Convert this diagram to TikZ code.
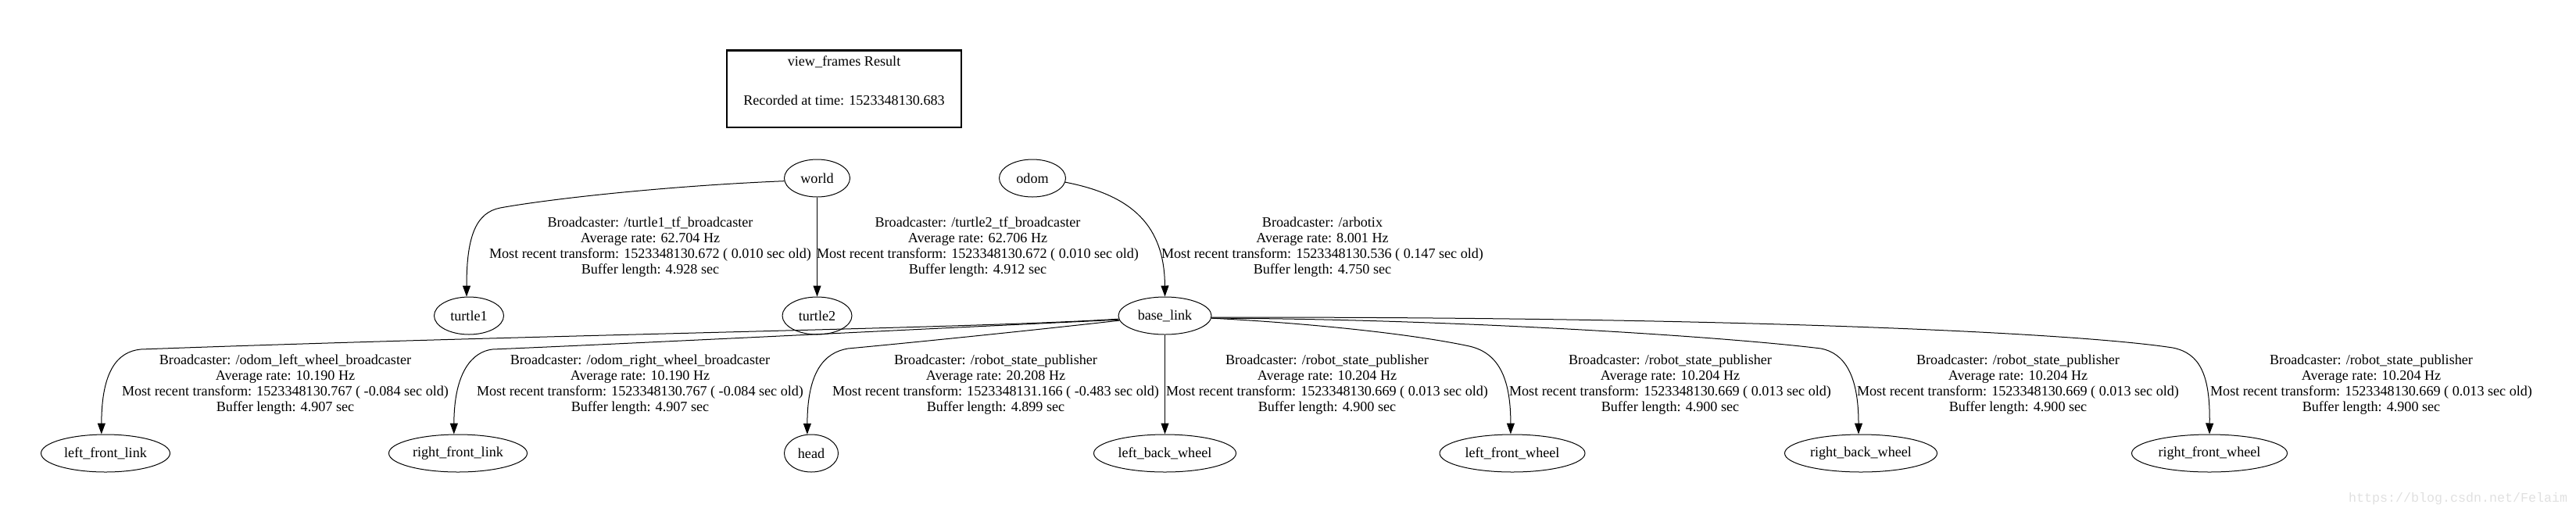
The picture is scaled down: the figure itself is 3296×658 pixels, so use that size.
\documentclass[tikz,border=0pt]{standalone}
\usepackage{fontspec}
\setmainfont{Liberation Serif}
\newfontfamily\markfont{Liberation Mono}
\usetikzlibrary{shapes.geometric,arrows.meta}

\begin{document}
\begin{tikzpicture}[x=0.75pt, y=-0.75pt, font=\fontsize{13.6}{15}\selectfont]
  \tikzset{
    tf frame/.style={
      draw,
      ellipse,
      line width=0.75pt,
      inner sep=0pt,
      minimum height=36pt,
      minimum width=#1,
    },
    tf frame/.default=63pt,
    tf link/.style={
      draw,
      line width=0.75pt,
      -{Triangle[length=10.5pt,width=7.5pt]},
    },
    tf info/.style={align=center, inner sep=0pt},
    tf result/.style={draw, line width=2pt, minimum width=225pt, minimum height=74pt, inner sep=0pt},
  }
  \newcommand{\tfstats}[5]{
    Broadcaster: #1\\
    Average rate: #2 Hz\\
    Most recent transform: #3 ( #4 sec old)\\
    Buffer length: #5 sec
  }
  \useasboundingbox (0,0) rectangle (3296,658);

  \node[tf result] (result) at (1080,113.5) {\raisebox{2.2pt}[0pt][0pt]{\begin{tabular}{@{}c@{}}view\_frames Result\\[22.5pt]Recorded at time: 1523348130.683\end{tabular}}};

  % frames
  \node[tf frame=63pt] (world) at (1045.5,228) {world};
  \node[tf frame=63.75pt] (odom) at (1321,228) {odom};
  \node[tf frame=66.75pt] (turtle1) at (600,404) {turtle1};
  \node[tf frame=66.75pt] (turtle2) at (1045.5,404) {turtle2};
  \node[tf frame=89.25pt] (base_link) at (1490.5,404) {base\_link};
  \node[tf frame=123.75pt] (left_front_link) at (135,580) {left\_front\_link};
  \node[tf frame=132.75pt] (right_front_link) at (586,580) {right\_front\_link};
  \node[tf frame=51.75pt] (head) at (1038,580) {head};
  \node[tf frame=136.5pt] (left_back_wheel) at (1490.5,580) {left\_back\_wheel};
  \node[tf frame=139.5pt] (left_front_wheel) at (1935,580) {left\_front\_wheel};
  \node[tf frame=146.25pt] (right_back_wheel) at (2381,580) {right\_back\_wheel};
  \node[tf frame=149.25pt] (right_front_wheel) at (2827,580) {right\_front\_wheel};

  % transforms
  \draw[tf link] (world.185)
    .. controls (850,238) and (700,255) .. (640,266)
    .. controls (610,272) and (597,300) .. (turtle1.97);
  \draw[tf link] (world) -- (turtle2);
  \draw[tf link] (odom.353)
    .. controls (1450,250) and (1490,290) .. (base_link.north);
  \draw[tf link] (base_link.184)
    .. controls (1250,420) and (700,428) .. (180,447)
    .. controls (150,450) and (130,475) .. (left_front_link.102);
  \draw[tf link] (base_link.185)
    .. controls (1200,420) and (800,440) .. (630,447)
    .. controls (605,450) and (581,475) .. (right_front_link.102);
  \draw[tf link] (base_link.186)
    .. controls (1300,425) and (1150,440) .. (1085,446)
    .. controls (1055,451) and (1033,475) .. (head.102);
  \draw[tf link] (base_link) -- (left_back_wheel);
  \draw[tf link] (base_link.357)
    .. controls (1700,415) and (1820,430) .. (1880,443)
    .. controls (1915,451) and (1933,480) .. (left_front_wheel.95);
  \draw[tf link] (base_link.357)
    .. controls (1850,408) and (2200,430) .. (2330,446)
    .. controls (2360,452) and (2378,480) .. (right_back_wheel.97);
  \draw[tf link] (base_link.358)
    .. controls (2200,405) and (2650,425) .. (2780,445)
    .. controls (2815,452) and (2828,480) .. (right_front_wheel.north);

  % edge labels
  \node[tf info] (info_turtle1) at (832,316) {\tfstats{/turtle1\_tf\_broadcaster}{62.704}{1523348130.672}{0.010}{4.928}};
  \node[tf info] (info_turtle2) at (1251,316) {\tfstats{/turtle2\_tf\_broadcaster}{62.706}{1523348130.672}{0.010}{4.912}};
  \node[tf info] (info_base) at (1692,316) {\tfstats{/arbotix}{8.001}{1523348130.536}{0.147}{4.750}};
  \node[tf info] (info_lfl) at (365,492) {\tfstats{/odom\_left\_wheel\_broadcaster}{10.190}{1523348130.767}{-0.084}{4.907}};
  \node[tf info] (info_rfl) at (819,492) {\tfstats{/odom\_right\_wheel\_broadcaster}{10.190}{1523348130.767}{-0.084}{4.907}};
  \node[tf info] (info_head) at (1274,492) {\tfstats{/robot\_state\_publisher}{20.208}{1523348131.166}{-0.483}{4.899}};
  \node[tf info] (info_lbw) at (1698,492) {\tfstats{/robot\_state\_publisher}{10.204}{1523348130.669}{0.013}{4.900}};
  \node[tf info] (info_lfw) at (2137,492) {\tfstats{/robot\_state\_publisher}{10.204}{1523348130.669}{0.013}{4.900}};
  \node[tf info] (info_rbw) at (2582,492) {\tfstats{/robot\_state\_publisher}{10.204}{1523348130.669}{0.013}{4.900}};
  \node[tf info] (info_rfw) at (3034,492) {\tfstats{/robot\_state\_publisher}{10.204}{1523348130.669}{0.013}{4.900}};

  \node[text=black!12, font=\markfont\fontsize{12.5}{14}\selectfont] (mark) at (3145,638) {https://blog.csdn.net/Felaim};
\end{tikzpicture}
\end{document}
